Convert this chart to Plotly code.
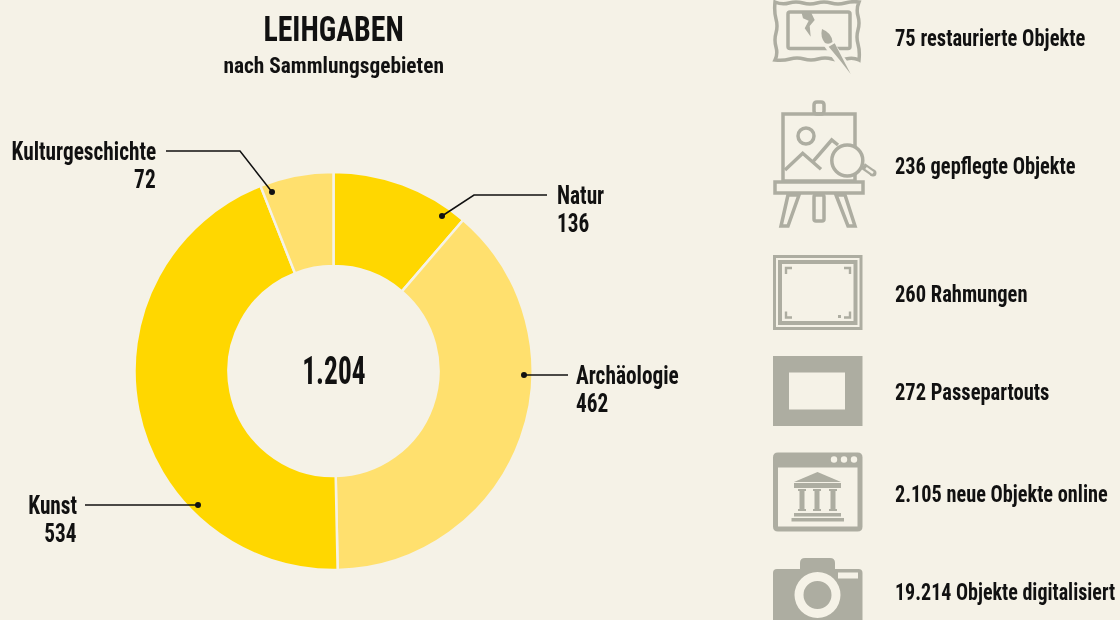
"""
plot.py - LEIHGABEN donut with the service icons on the right.
"""

import json

import plotly.graph_objects as go

# ---------------------------------------------------------------------------
# Data
# ---------------------------------------------------------------------------
CATEGORIES = ["Natur", "Archäologie", "Kunst", "Kulturgeschichte"]
VALUES = [136, 462, 534, 72]
SLICE_COLORS = ["#FFD700", "#FFE06E", "#FFD700", "#FFE06E"]
TOTAL_LABEL = "1.204"

STAT_LABELS = [
    "75 restaurierte Objekte",
    "236 gepflegte Objekte",
    "260 Rahmungen",
    "272 Passepartouts",
    "2.105 neue Objekte online",
    "19.214 Objekte digitalisiert",
]
STAT_Y = [38, 166, 294, 392, 494, 592]
# the long lines run a little wider in Roboto than in the original face
STAT_SQUEEZE = [0.855, 0.85, 0.855, 0.855, 0.845, 0.835]

BG = "#F5F2E7"
ICON = "#ADADA1"
INK = "#111111"
FONT = "Roboto Condensed"
W, H = 1120, 620

# center and radii of the ring, in pixels
CX, CY, R_OUT, R_IN = 333.5, 371, 199, 105

# ---------------------------------------------------------------------------
# Shape helpers (axes below run in page pixels)
# ---------------------------------------------------------------------------
shapes = []


def add_path(path, fill=None, line=None, width=0):
    shapes.append(dict(
        type="path", xref="x", yref="y", path=path,
        fillcolor=fill or "rgba(0,0,0,0)",
        line=dict(color=line or "rgba(0,0,0,0)", width=width),
    ))


def rect_path(x0, y0, x1, y1):
    return f"M{x0},{y0} L{x1},{y0} L{x1},{y1} L{x0},{y1} Z"


def round_path(x0, y0, x1, y1, r):
    return (f"M{x0 + r},{y0} L{x1 - r},{y0} Q{x1},{y0} {x1},{y0 + r} "
            f"L{x1},{y1 - r} Q{x1},{y1} {x1 - r},{y1} L{x0 + r},{y1} "
            f"Q{x0},{y1} {x0},{y1 - r} L{x0},{y0 + r} Q{x0},{y0} {x0 + r},{y0} Z")


def add_rect(x0, y0, x1, y1, fill=ICON):
    add_path(rect_path(x0, y0, x1, y1), fill=fill)


def add_circle(cx, cy, r, fill=None, line=None, width=0):
    shapes.append(dict(
        type="circle", xref="x", yref="y",
        x0=cx - r, x1=cx + r, y0=cy - r, y1=cy + r,
        fillcolor=fill or "rgba(0,0,0,0)",
        line=dict(color=line or "rgba(0,0,0,0)", width=width),
    ))


def poly(points):
    return "M" + " L".join(f"{x},{y}" for x, y in points) + " Z"


def line_path(points):
    return "M" + " L".join(f"{x},{y}" for x, y in points)


# ---------------------------------------------------------------------------
# Icons
# ---------------------------------------------------------------------------
def icon_restored():
    frame = ("M775,2 Q782,5 789,3 T803,3 T817,3 T831,3 T845,3 T859,2 "
             "Q856,9 858,16 T858,30 T858,44 T859,60 "
             "Q853,57 846,59 T832,59 T818,59 T804,59 T790,59 T775,60 "
             "Q778,54 776,47 T776,33 T776,19 T775,2 Z")
    add_path(frame, line=ICON, width=3.5)
    add_path(round_path(788, 12, 850, 48.5, 2), line=ICON, width=3.5)
    add_path(poly([(801.3, 11.7), (810.7, 11.7), (814.7, 20), (809.7, 26),
                   (810.7, 36.7), (804.7, 28.3), (808.7, 20.7), (803, 18.3)]), fill=ICON)
    # brush, with a halo cutting the frame
    add_path("M826,40 L850,74", line=BG, width=10)
    add_path(poly([(828.7, 46.7), (834.7, 43.3), (850.7, 74), (839.7, 60)]), fill=ICON)
    add_path("M822,29 Q832,33 832.5,42 Q829,45 825,43 Q820,37 822,29 Z", fill=ICON)


def icon_easel():
    add_path(round_path(814, 102, 824, 114, 3), line=ICON, width=3.5)
    add_path(rect_path(783, 114, 855, 181), line=ICON, width=3.5)
    add_circle(806, 136, 8, line=ICON, width=3.5)
    add_path(line_path([(785, 170), (802.7, 153.3), (821, 169.3)]), line=ICON, width=3.5)
    add_path(line_path([(813, 161.7), (831.7, 140), (838, 145)]), line=ICON, width=3.5)
    # magnifier handle is a small capsule
    add_path("M863,166 L873,173", line=ICON, width=7)
    add_circle(873, 173, 3.5, fill=ICON)
    add_path("M866,168 L873,173", line=BG, width=2.5)
    add_circle(847.3, 160.5, 15.5, fill=BG, line=ICON, width=3.5)
    add_path(rect_path(775, 182, 863, 193), fill=BG, line=ICON, width=3.5)
    add_path(poly([(788, 195), (781, 226), (788, 226), (799, 195)]), line=ICON, width=3.5)
    add_path(round_path(814, 195, 824, 221, 2), line=ICON, width=3.5)
    add_path(poly([(836, 195), (848, 226), (855, 226), (845, 195)]), line=ICON, width=3.5)


def icon_frame():
    add_rect(773, 255, 862.5, 330)
    add_rect(776, 258, 859.5, 327, fill=BG)
    add_rect(778, 260, 857.5, 325)
    add_rect(782, 264, 853.5, 321, fill=BG)
    for x, y, dx, dy in [(786, 268, 1, 1), (850, 268, -1, 1), (786, 317.5, 1, -1), (850, 317.5, -1, -1)]:
        add_path(line_path([(x, y + 6 * dy), (x, y), (x + 6 * dx, y)]), line=ICON, width=2.4)
    add_rect(838, 315, 841, 318)


def icon_mat():
    add_rect(773, 356, 862.5, 426)
    add_rect(789, 372.5, 845, 409.5, fill=BG)


def icon_online():
    add_path(round_path(773, 452.5, 862.5, 531.5, 5), fill=ICON)
    add_rect(778, 467.5, 857.5, 526.5, fill=BG)
    for x in [834, 844, 854]:
        add_circle(x, 459.5, 3.2, fill=BG)
    add_path(poly([(794, 482), (817.5, 472), (841, 482)]), fill=ICON)
    add_rect(794, 483, 841, 488)
    for x in [798, 813, 829]:
        add_rect(x, 489, x + 8, 491)
        add_rect(x + 1.5, 491, x + 6.5, 509)
        add_rect(x, 509, x + 8, 511)
    add_rect(794, 513, 841, 516.5)
    add_rect(791.5, 518, 844, 521.5)


def icon_camera():
    add_path(round_path(773, 569, 862.5, 640, 4), fill=ICON)
    add_path(round_path(800, 558, 835, 580, 5), fill=ICON)
    add_rect(838, 572.5, 858, 578.5, fill=BG)
    add_circle(817.5, 595, 23, fill=BG)
    add_circle(817.5, 595, 14, fill=ICON)


icon_restored()
icon_easel()
icon_frame()
icon_mat()
icon_online()
icon_camera()

# ---------------------------------------------------------------------------
# Leader lines
# ---------------------------------------------------------------------------
LEADERS = [
    [(547, 195), (474, 195), (442, 216)],
    [(568, 375), (524, 375)],
    [(85, 505), (198, 505)],
    [(166, 151), (240, 151), (272, 192)],
]
for pts in LEADERS:
    add_path(line_path(pts), line=INK, width=1.5)
    add_circle(pts[-1][0], pts[-1][1], 3, fill=INK)

# ---------------------------------------------------------------------------
# Figure
# ---------------------------------------------------------------------------
fig = go.Figure()
# carries the pixel axes that the shapes and texts use
fig.add_trace(go.Scatter(x=[0, W], y=[0, H], mode="markers", opacity=0,
                         hoverinfo="skip", showlegend=False))
fig.add_trace(go.Pie(
    labels=CATEGORIES,
    values=VALUES,
    sort=False,
    direction="clockwise",
    rotation=0,
    hole=R_IN / R_OUT,
    textinfo="none",
    marker=dict(colors=SLICE_COLORS, line=dict(color=BG, width=2.5)),
    domain=dict(
        x=[(CX - R_OUT) / W, (CX + R_OUT) / W],
        y=[1 - (CY + R_OUT) / H, 1 - (CY - R_OUT) / H],
    ),
    showlegend=False,
))

# horizontal squeeze per text, the original face is narrower than Roboto Condensed
squeeze = []


def text(x, y, s, size, anchor="left", sx=0.84):
    squeeze.append([sx, anchor])
    return dict(
        x=x, y=y, xref="x", yref="y", text=str(s), showarrow=False,
        xanchor=anchor, yanchor="middle", align=anchor,
        font=dict(family=FONT, size=size, color=INK, weight="bold"),
    )


annotations = [
    text(333, 29, "LEIHGABEN", 36, "center", 0.83),
    text(333, 65, "nach Sammlungsgebieten", 23, "center", 0.93),
    text(333.5, 371, TOTAL_LABEL, 38, "center", 0.72),
]
# label anchors: x, first line y, side
LABEL_POS = [(555, 195, "left"), (574, 375, "left"), (79, 505, "right"), (158, 151, "right")]
for (x, y, side), name, value in zip(LABEL_POS, CATEGORIES, VALUES):
    annotations.append(text(x, y, name, 25.4, side))
    annotations.append(text(x, y + 28, value, 25.4, side))
annotations += [text(893, y, s, 24, sx=sq) for s, y, sq in zip(STAT_LABELS, STAT_Y, STAT_SQUEEZE)]

fig.update_layout(
    width=W,
    height=H,
    margin=dict(l=0, r=0, t=0, b=0),
    paper_bgcolor=BG,
    plot_bgcolor=BG,
    xaxis=dict(range=[0, W], visible=False, fixedrange=True),
    yaxis=dict(range=[H, 0], visible=False, fixedrange=True),
    shapes=shapes,
    annotations=annotations,
)

post = """
document.body.style.margin = '0';
document.body.style.background = '#F5F2E7';
var squeeze = %s;
document.querySelectorAll('.annotation-text').forEach(function (t, i) {
  var b = t.getBBox(), s = squeeze[i][0], a = squeeze[i][1];
  var px = a === 'left' ? b.x : a === 'right' ? b.x + b.width : b.x + b.width / 2;
  t.setAttribute('transform', 'translate(' + px + ',0) scale(' + s + ',1) translate(' + (-px) + ',0)');
});
""" % json.dumps(squeeze)

fig.write_html("out.html", config=dict(displayModeBar=False), post_script=post)
